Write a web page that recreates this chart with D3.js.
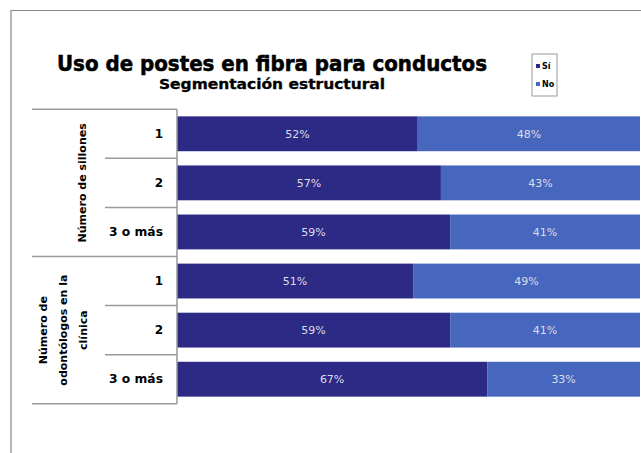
<!DOCTYPE html>
<html>
<head>
<meta charset="utf-8">
<script src="https://cdn.jsdelivr.net/npm/d3@7"></script>
<style>
  body { margin: 0; background: #fff; }
  text { font-family: "DejaVu Sans", Verdana, sans-serif; }
</style>
</head>
<body>
<script>
var width = 641, height = 453;

var groups = ['Número de sillones', 'Número de odontólogos en la clínica'];
var categories = ['1', '2', '3 o más', '1', '2', '3 o más'];
var groupOf = [0, 0, 0, 1, 1, 1];
var siValues = [52, 57, 59, 51, 59, 67];
var noValues = [48, 43, 41, 49, 41, 33];
var series = ['Sí', 'No'];
var colors = ['#2c2a84', '#4667bd'];

var svg = d3.select('body')
            .append('svg')
            .attr('width', width)
            .attr('height', height);

// outer frame
svg.append('path')
   .attr('d', 'M11,453V10.5H641')
   .attr('fill', 'none')
   .attr('stroke', '#888')
   .attr('stroke-width', 1.2);

var y = d3.scaleBand()
          .domain(d3.range(categories.length))
          .range([109, 404])
          .paddingInner(0.29)
          .paddingOuter(0.15);

var x = d3.scaleLinear()
          .domain([0, 100])
          .range([177, 640]);

var rows = categories.map(function(c, i){
  return {i: i, cat: c, si: siValues[i], no: noValues[i]};
});

var bars = svg.append('g');

bars.selectAll('rect.si')
    .data(rows)
    .enter()
      .append('rect')
      .attr('x', x(0))
      .attr('y', function(d){ return y(d.i); })
      .attr('width', function(d){ return x(d.si) - x(0); })
      .attr('height', y.bandwidth())
      .style('fill', colors[0]);

bars.selectAll('rect.no')
    .data(rows)
    .enter()
      .append('rect')
      .attr('x', function(d){ return x(d.si); })
      .attr('y', function(d){ return y(d.i); })
      .attr('width', function(d){ return x(d.si + d.no) - x(d.si); })
      .attr('height', y.bandwidth())
      .style('fill', colors[1]);

bars.selectAll('text.si')
    .data(rows)
    .enter()
      .append('text')
      .attr('x', function(d){ return (x(0) + x(d.si)) / 2; })
      .attr('y', function(d){ return y(d.i) + y.bandwidth() / 2 + 4; })
      .attr('text-anchor', 'middle')
      .style('font-size', '11px')
      .style('fill', '#dcdce8')
      .text(function(d){ return d.si + '%'; });

bars.selectAll('text.no')
    .data(rows)
    .enter()
      .append('text')
      .attr('x', function(d){ return (x(d.si) + x(d.si + d.no)) / 2; })
      .attr('y', function(d){ return y(d.i) + y.bandwidth() / 2 + 4; })
      .attr('text-anchor', 'middle')
      .style('font-size', '11px')
      .style('fill', '#dcdce8')
      .text(function(d){ return d.no + '%'; });

// table of categories on the left
var step = y.step();
var edge = function(i){ return y(i) - (step - y.bandwidth()) / 2; };
var tbl = svg.append('g')
             .attr('stroke', '#999')
             .attr('stroke-width', 1.5);

for (var i = 0; i <= categories.length; i++){
  var full = (i === 0 || i === categories.length || groupOf[i] !== groupOf[i - 1]);
  var yy = i === categories.length ? edge(i - 1) + step : edge(i);
  tbl.append('line')
     .attr('x1', full ? 32 : 105)
     .attr('x2', 177)
     .attr('y1', yy)
     .attr('y2', yy);
}
tbl.append('line')
   .attr('x1', 177).attr('x2', 177)
   .attr('y1', edge(0)).attr('y2', edge(categories.length - 1) + step);

svg.append('g').selectAll('text')
   .data(rows)
   .enter()
     .append('text')
     .attr('x', 163)
     .attr('y', function(d){ return y(d.i) + y.bandwidth() / 2 + 4; })
     .attr('text-anchor', 'end')
     .attr('textLength', function(d){ return d.cat.length > 1 ? 54 : null; })
     .attr('lengthAdjust', 'spacingAndGlyphs')
     .style('font-size', '12px')
     .style('font-weight', 'bold')
     .text(function(d){ return d.cat; });

var groupLines = [['Número de sillones'], ['Número de', 'odontólogos en la', 'clínica']];
groupLines.forEach(function(lines, g){
  var idx = d3.range(categories.length).filter(function(i){ return groupOf[i] === g; });
  var cy = (edge(idx[0]) + edge(idx[idx.length - 1]) + step) / 2;
  var cx = g === 0 ? 82 : 63;
  var t = svg.append('text')
             .attr('transform', 'translate(' + cx + ',' + cy + ') rotate(-90)')
             .attr('text-anchor', 'middle')
             .style('font-size', '11px')
             .style('font-weight', 'bold');
  lines.forEach(function(l, k){
    t.append('tspan')
     .attr('x', 0)
     .attr('y', (k - (lines.length - 1) / 2) * 20 + 4)
     .text(l);
  });
});

// titles
svg.append('text')
   .attr('x', 272)
   .attr('y', 71)
   .attr('text-anchor', 'middle')
   .attr('textLength', 430)
   .attr('lengthAdjust', 'spacingAndGlyphs')
   .style('font-size', '22px')
   .style('font-weight', 'bold')
   .style('stroke', '#000')
   .style('stroke-width', 0.6)
   .text('Uso de postes en fibra para conductos');

svg.append('text')
   .attr('x', 272)
   .attr('y', 89)
   .attr('text-anchor', 'middle')
   .attr('textLength', 226)
   .attr('lengthAdjust', 'spacingAndGlyphs')
   .style('font-size', '13.5px')
   .style('font-weight', 'bold')
   .style('stroke', '#000')
   .style('stroke-width', 0.3)
   .text('Segmentación estructural');

// legend
var lg = svg.append('g').attr('transform', 'translate(532,54)');
lg.append('rect')
  .attr('width', 25).attr('height', 42)
  .attr('fill', '#fff')
  .attr('stroke', '#999');
lg.selectAll('rect.key')
  .data(series)
  .enter()
    .append('rect')
    .attr('x', 4)
    .attr('y', function(d, i){ return 10 + i * 18; })
    .attr('width', 4).attr('height', 4)
    .style('fill', function(d, i){ return colors[i]; });
lg.selectAll('text')
  .data(series)
  .enter()
    .append('text')
    .attr('x', 10)
    .attr('y', function(d, i){ return 15 + i * 18; })
    .style('font-size', '8px')
    .style('font-weight', 'bold')
    .text(function(d){ return d; });
</script>
</body>
</html>
